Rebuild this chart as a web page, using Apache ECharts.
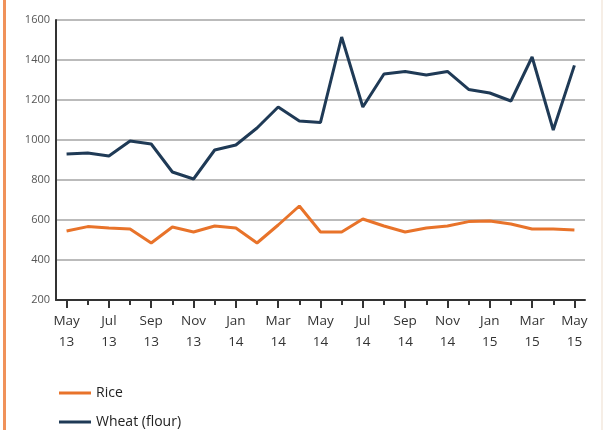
<!DOCTYPE html>
<html><head><meta charset="utf-8">
<script src="https://cdn.jsdelivr.net/npm/echarts@6/dist/echarts.min.js"></script>
<style>html,body{margin:0;padding:0;background:#fff}#c{width:604px;height:430px}</style>
</head><body><div id="c"></div>
<script>
const months = ['May','Jun','Jul','Aug','Sep','Oct','Nov','Dec','Jan','Feb','Mar','Apr','May','Jun','Jul','Aug','Sep','Oct','Nov','Dec','Jan','Feb','Mar','Apr','May'];
const years = ['13','13','13','13','13','13','13','13','14','14','14','14','14','14','14','14','14','14','14','14','15','15','15','15','15'];
const rice = [545,567,560,555,485,565,540,570,560,485,575,670,540,540,605,570,540,560,570,592,595,580,555,555,550];
const wheat = [930,935,920,995,980,840,805,950,975,1060,1165,1095,1088,1515,1165,1330,1343,1325,1343,1253,1235,1195,1415,1050,1373];
const yTicks = [200,400,600,800,1000,1200,1400,1600];

const categories = months.map((m,i)=>m+'\n'+years[i]);
const chart = echarts.init(document.getElementById('c'));
const font = '"Open Sans", "Noto Sans", sans-serif';
const legendBase = {
  orient:'horizontal', left:54, itemWidth:32, itemHeight:3, icon:'rect',
  textStyle:{fontFamily:font,fontSize:14,color:'#222'}
};
chart.setOption({
  animation:false,
  grid:{left:56,right:19,top:20,height:280},
  legend:[
    Object.assign({}, legendBase, {top:381, data:['Rice']}),
    Object.assign({}, legendBase, {top:410, data:['Wheat (flour)']})
  ],
  graphic:[
    {type:'rect',shape:{x:3,y:0,width:3,height:430},style:{fill:'#f0925a'}},
    {type:'rect',shape:{x:601,y:0,width:2,height:430},style:{fill:'#f6eee6'}}
  ],
  xAxis:[{
    type:'category', data:categories, boundaryGap:true,
    axisLine:{show:true,lineStyle:{color:'#333',width:2}},
    axisTick:{show:true,alignWithLabel:true,interval:1,length:8,lineStyle:{color:'#333',width:2}},
    axisLabel:{interval:1,fontFamily:font,fontSize:13.5,color:'#333',lineHeight:21,margin:11}
  },{
    type:'category', data:categories, boundaryGap:true, position:'bottom',
    axisLine:{show:false},
    axisTick:{show:true,alignWithLabel:true,interval:0,length:5,lineStyle:{color:'#333',width:2}},
    axisLabel:{show:false}
  }],
  yAxis:{
    type:'value', min:200, max:1600, interval:200,
    axisLine:{show:true,lineStyle:{color:'#333',width:2}},
    axisTick:{show:false},
    splitLine:{lineStyle:{color:'#bbb',width:2}},
    axisLabel:{fontFamily:font,fontSize:11,color:'#555',margin:6,
      formatter:v=>yTicks.includes(v)?String(v):''}
  },
  series:[
    {name:'Rice',type:'line',data:rice,showSymbol:false,symbol:'none',
     lineStyle:{color:'#e8732a',width:3},itemStyle:{color:'#e8732a'}},
    {name:'Wheat (flour)',type:'line',data:wheat,showSymbol:false,symbol:'none',
     lineStyle:{color:'#1f3a56',width:3},itemStyle:{color:'#1f3a56'}}
  ]
});
</script></body></html>
